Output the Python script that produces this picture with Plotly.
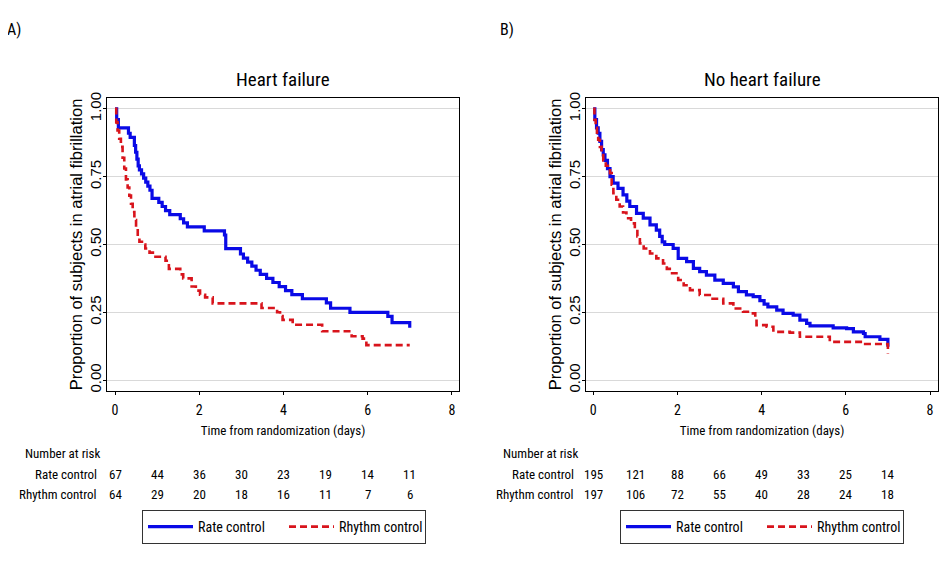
import plotly.graph_objects as go

# ---------------- data ----------------
panel_titles = ["Heart failure", "No heart failure"]
panel_tags = ["A)", "B)"]
series_names = ["Rate control", "Rhythm control"]

# Heart failure panel (A)
hf_rate_t = [0, 0.04, 0.08, 0.32, 0.36, 0.46, 0.49, 0.52, 0.55, 0.58, 0.63, 0.68, 0.73, 0.78, 0.83, 0.88,
             1.04, 1.12, 1.2, 1.3, 1.55, 1.63, 1.72, 2.12, 2.6, 2.63, 2.98, 3.05, 3.15, 3.25, 3.35, 3.45,
             3.6, 3.75, 3.9, 4.05, 4.2, 4.45, 5.02, 5.12, 5.58, 6.48, 6.58, 7.0]
hf_rate_s = [1.0, 0.96, 0.93, 0.91, 0.895, 0.865, 0.84, 0.815, 0.79, 0.775, 0.76, 0.745, 0.73, 0.715, 0.70, 0.67,
             0.655, 0.64, 0.625, 0.61, 0.595, 0.58, 0.565, 0.55, 0.535, 0.485, 0.465, 0.45, 0.435, 0.42, 0.405, 0.39,
             0.375, 0.36, 0.345, 0.33, 0.315, 0.30, 0.285, 0.265, 0.25, 0.235, 0.212, 0.193]
hf_rhythm_t = [0, 0.03, 0.06, 0.10, 0.14, 0.18, 0.22, 0.26, 0.30, 0.34, 0.38, 0.42, 0.46, 0.50, 0.54, 0.58,
               0.64, 0.72, 0.82, 0.90, 1.20, 1.28, 1.55, 1.62, 1.82, 1.92, 2.02, 2.14, 2.32, 3.48, 3.85, 3.92,
               3.98, 4.22, 4.92, 5.62, 5.88, 5.97, 7.0]
hf_rhythm_s = [1.0, 0.95, 0.92, 0.89, 0.86, 0.82, 0.78, 0.74, 0.71, 0.68, 0.65, 0.62, 0.59, 0.56, 0.53, 0.51,
               0.50, 0.485, 0.47, 0.455, 0.44, 0.41, 0.39, 0.375, 0.345, 0.33, 0.315, 0.305, 0.283, 0.266, 0.25, 0.236,
               0.222, 0.204, 0.18, 0.162, 0.153, 0.129, 0.129]

# No heart failure panel (B)
nohf_rate_t = [0, 0.04, 0.08, 0.12, 0.16, 0.2, 0.24, 0.28, 0.34, 0.4, 0.475, 0.59, 0.71, 0.8, 0.87, 1.03,
               1.19, 1.35, 1.5, 1.58, 1.64, 1.7, 1.9, 2.02, 2.22, 2.38, 2.53, 2.69, 2.89, 3.09, 3.33, 3.45,
               3.64, 3.8, 3.96, 4.06, 4.15, 4.36, 4.51, 4.75, 4.91, 5.07, 5.15, 5.7, 6.02, 6.18, 6.42, 6.46,
               6.81, 7.0]
nohf_rate_s = [1.0, 0.96, 0.93, 0.91, 0.88, 0.85, 0.83, 0.81, 0.78, 0.75, 0.726, 0.707, 0.683, 0.66, 0.64, 0.615,
               0.597, 0.572, 0.553, 0.53, 0.51, 0.50, 0.486, 0.449, 0.437, 0.412, 0.40, 0.387, 0.369, 0.357, 0.344, 0.326,
               0.314, 0.308, 0.293, 0.28, 0.27, 0.258, 0.246, 0.24, 0.221, 0.209, 0.20, 0.193, 0.19, 0.178, 0.172, 0.16,
               0.15, 0.123]
nohf_rhythm_t = [0, 0.03, 0.06, 0.09, 0.12, 0.16, 0.2, 0.24, 0.3, 0.4, 0.44, 0.48, 0.55, 0.63, 0.71, 0.79,
                 0.9, 0.99, 1.05, 1.11, 1.2, 1.35, 1.5, 1.66, 1.75, 1.82, 2.02, 2.15, 2.3, 2.53, 2.77, 3.09,
                 3.33, 3.56, 3.76, 3.85, 3.88, 4.12, 4.28, 4.67, 4.91, 5.62, 6.46, 7.0]
nohf_rhythm_s = [1.0, 0.96, 0.93, 0.9, 0.886, 0.86, 0.83, 0.81, 0.79, 0.763, 0.72, 0.689, 0.665, 0.64, 0.618, 0.597,
                 0.578, 0.56, 0.53, 0.504, 0.485, 0.467, 0.449, 0.43, 0.41, 0.394, 0.369, 0.35, 0.332, 0.314, 0.30, 0.283,
                 0.264, 0.252, 0.246, 0.225, 0.203, 0.197, 0.178, 0.175, 0.16, 0.141, 0.133, 0.098]

# Number at risk tables
risk_times = [0, 1, 2, 3, 4, 5, 6, 7]
hf_rate_risk = [67, 44, 36, 30, 23, 19, 14, 11]
hf_rhythm_risk = [64, 29, 20, 18, 16, 11, 7, 6]
nohf_rate_risk = [195, 121, 88, 66, 49, 33, 25, 14]
nohf_rhythm_risk = [197, 106, 72, 55, 40, 28, 24, 18]

x_ticks = [0, 2, 4, 6, 8]
y_ticks = [0, 0.25, 0.5, 0.75, 1.0]
y_ticktext = ["0.00", "0.25", "0.50", "0.75", "1.00"]
x_title = "Time from randomization (days)"
y_title = "Proportion of subjects in atrial fibrillation"
risk_header = "Number at risk"

# ---------------- style ----------------
PAGE_W, PAGE_H = 948, 564
OFF = 8  # default body margin of the html page
W, H = PAGE_W - OFF, PAGE_H - OFF
NARROW = "Liberation Sans Narrow, Arial Narrow, Roboto Condensed, Liberation Sans, Arial, sans-serif"
REG = "Liberation Sans, Arial, sans-serif"
BLUE = "#0a0ae6"
RED = "#d8141c"


def px_x(p):
    return (p - OFF) / W


def px_y(p):
    return 1 - (p - OFF) / H


panels = [
    dict(xd=[107, 459], xr=[-0.19, 8.17], rate=(hf_rate_t, hf_rate_s), rhy=(hf_rhythm_t, hf_rhythm_s),
         risk=(hf_rate_risk, hf_rhythm_risk), tag_x=5, head_x=23, lab_right=99, leg_x=142, legend="legend"),
    dict(xd=[586, 938], xr=[-0.17, 8.19], rate=(nohf_rate_t, nohf_rate_s), rhy=(nohf_rhythm_t, nohf_rhythm_s),
         risk=(nohf_rate_risk, nohf_rhythm_risk), tag_x=498, head_x=501, lab_right=576, leg_x=620, legend="legend2"),
]

fig = go.Figure()
annotations = []
layout_axes = {}
yd = [px_y(391), px_y(98)]

for i, p in enumerate(panels):
    xa = "x" if i == 0 else "x2"
    ya = "y" if i == 0 else "y2"
    fig.add_trace(go.Scatter(x=p["rate"][0], y=p["rate"][1], mode="lines", line_shape="hv",
                             line=dict(color=BLUE, width=3.2), name=series_names[0],
                             xaxis=xa, yaxis=ya, legend=p["legend"]))
    fig.add_trace(go.Scatter(x=p["rhy"][0], y=p["rhy"][1], mode="lines", line_shape="hv",
                             line=dict(color=RED, width=2.6, dash="7px,4px"), name=series_names[1],
                             xaxis=xa, yaxis=ya, legend=p["legend"]))
    xk = "xaxis" if i == 0 else "xaxis2"
    yk = "yaxis" if i == 0 else "yaxis2"
    layout_axes[xk] = dict(domain=[px_x(p["xd"][0]), px_x(p["xd"][1])], range=p["xr"], anchor=ya,
                           tickvals=x_ticks, ticks="outside", ticklen=3, tickcolor="black",
                           ticklabelstandoff=3,
                           showline=True, linecolor="black", linewidth=1.3, mirror=True,
                           showgrid=False, zeroline=False,
                           tickfont=dict(family=NARROW, size=14, color="black"),
                           title=dict(text=x_title, font=dict(family=NARROW, size=13, color="black"), standoff=8),
                           automargin=False)
    layout_axes[yk] = dict(domain=yd, range=[-0.04, 1.04], anchor=xa,
                           tickvals=y_ticks, ticktext=y_ticktext, tickangle=-90,
                           ticks="outside", ticklen=3, tickcolor="black",
                           ticklabelstandoff=-4,
                           showline=True, linecolor="black", linewidth=1.3, mirror=True,
                           showgrid=True, gridcolor="#d9d9d9", gridwidth=1, zeroline=False,
                           tickfont=dict(family=REG, size=15, color="black"),
                           title=dict(text=y_title, font=dict(family=REG, size=16.5, color="black"), standoff=0),
                           automargin=False)
    # panel title
    annotations.append(dict(text=panel_titles[i], x=px_x(sum(p["xd"]) / 2), y=px_y(80), xref="paper", yref="paper",
                            showarrow=False, font=dict(family=NARROW, size=19, color="black"),
                            xanchor="center", yanchor="middle"))
    # panel tag
    annotations.append(dict(text=panel_tags[i], x=px_x(p["tag_x"]), y=px_y(30), xref="paper", yref="paper",
                            showarrow=False, font=dict(family=NARROW, size=16, color="black"),
                            xanchor="left", yanchor="middle"))
    # risk table
    annotations.append(dict(text=risk_header, x=px_x(p["head_x"]), y=px_y(453), xref="paper", yref="paper",
                            showarrow=False, font=dict(family=NARROW, size=13, color="black"),
                            xanchor="left", yanchor="middle"))
    for row, (label, vals) in enumerate(zip(series_names, p["risk"])):
        yy = px_y(474 + row * 20)
        annotations.append(dict(text=label, x=px_x(p["lab_right"]), y=yy, xref="paper", yref="paper",
                                showarrow=False, font=dict(family=NARROW, size=13, color="black"),
                                xanchor="right", yanchor="middle"))
        for t, v in zip(risk_times, vals):
            annotations.append(dict(text=str(v), x=t, y=yy, xref=xa, yref="paper",
                                    showarrow=False, font=dict(family=NARROW, size=13, color="black"),
                                    xanchor="center", yanchor="middle"))

leg_common = dict(orientation="h", xanchor="left", yanchor="top", y=px_y(510),
                  bgcolor="white", bordercolor="#333333", borderwidth=1,
                  font=dict(family=NARROW, size=14, color="black"),
                  entrywidth=81, entrywidthmode="pixels", itemwidth=45,
                  tracegroupgap=0)

fig.update_layout(
    width=W, height=H,
    margin=dict(l=0, r=0, t=0, b=0),
    paper_bgcolor="white", plot_bgcolor="white",
    showlegend=True,
    legend=dict(x=px_x(panels[0]["leg_x"]), **leg_common),
    legend2=dict(x=px_x(panels[1]["leg_x"]), **leg_common),
    annotations=annotations,
    **layout_axes,
)

fig.write_html("out.html")
